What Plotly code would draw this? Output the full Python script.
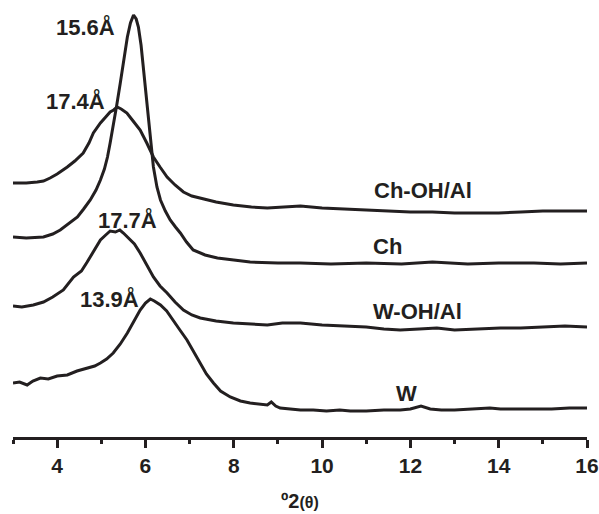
import plotly.graph_objects as go

# ---- data (2θ in degrees, intensity in arbitrary offset units) ----
w_x = [3.0, 3.15, 3.32, 3.45, 3.62, 3.8, 4.0, 4.23, 4.45, 4.68, 4.85, 4.98, 5.12, 5.27, 5.43, 5.59, 5.75, 5.88,
       6.0, 6.11, 6.2, 6.34, 6.48, 6.63, 6.78, 6.94, 7.08, 7.24, 7.38, 7.54, 7.7, 7.92, 8.15, 8.37, 8.55, 8.76,
       8.85, 8.95, 9.05, 9.3, 9.51, 9.8, 10.1, 10.4, 10.64, 11.0, 11.4, 11.77, 12.0, 12.24, 12.45, 12.7, 13.0,
       13.4, 13.8, 14.04, 14.4, 14.8, 15.2, 15.6, 16.0]
w_y = [54, 55, 52, 56, 59, 58, 61, 62, 66, 69, 71, 74, 78, 84, 93, 104, 117, 127,
       134, 138, 136, 132, 126, 117, 107, 97, 86, 74, 63, 54, 46, 40, 36, 34, 33, 32,
       35, 31, 29, 28, 27, 27, 26, 27, 26, 26, 27, 27, 28, 31, 28, 27, 27,
       28, 29, 28, 28, 28, 28, 29, 29]

woh_x = [3.0, 3.2, 3.46, 3.69, 3.9, 4.14, 4.37, 4.55, 4.68, 4.85, 4.98, 5.1, 5.2, 5.32, 5.42, 5.5, 5.59, 5.75,
         5.88, 6.03, 6.18, 6.33, 6.49, 6.67, 6.86, 7.05, 7.24, 7.6, 7.99, 8.4, 8.76, 9.1, 9.51, 10.0, 10.5,
         11.0, 11.4, 11.77, 12.2, 12.6, 13.0, 13.5, 14.04, 14.5, 15.0, 15.5, 16.0]
woh_y = [131, 130, 132, 135, 140, 147, 160, 166, 175, 187, 197, 202, 206, 205, 207, 204, 200, 193,
         184, 172, 160, 151, 144, 135, 127, 122, 119, 116, 114, 113, 112, 114, 114, 112, 111,
         110, 108, 107, 108, 109, 107, 108, 109, 109, 110, 111, 110]

ch_x = [3.0, 3.3, 3.69, 3.9, 4.07, 4.25, 4.46, 4.6, 4.75, 4.88, 4.98, 5.07, 5.14, 5.2, 5.27, 5.35, 5.43, 5.51,
        5.59, 5.66, 5.73, 5.79, 5.84, 5.9, 5.95, 6.0, 6.06, 6.12, 6.18, 6.26, 6.34, 6.45, 6.56, 6.68, 6.79,
        6.93, 7.08, 7.35, 7.63, 8.0, 8.37, 9.0, 9.51, 10.2, 11.0, 11.8, 12.5, 13.3, 14.0, 14.8, 15.4, 16.0]
ch_y = [200, 199, 200, 203, 207, 213, 220, 228, 237, 247, 257, 268, 280, 294, 310, 332, 354, 378,
        400, 414, 422, 418, 410, 392, 370, 345, 320, 294, 270, 250, 237, 226, 217, 210, 204,
        195, 187, 182, 179, 177, 175, 174, 174, 173, 174, 173, 175, 173, 174, 174, 173, 174]

choh_x = [3.0, 3.3, 3.55, 3.69, 3.84, 4.0, 4.23, 4.4, 4.59, 4.72, 4.82, 4.98, 5.1, 5.2, 5.28, 5.36, 5.45, 5.58, 5.72,
          5.88, 6.03, 6.18, 6.33, 6.49, 6.67, 6.86, 7.05, 7.24, 7.6, 7.99, 8.4, 8.76, 9.1, 9.51, 10.0, 10.5,
          11.0, 11.5, 12.0, 12.5, 13.0, 13.5, 14.0, 14.5, 15.0, 15.5, 16.0]
choh_y = [254, 254, 255, 256, 259, 263, 270, 276, 284, 294, 304, 314, 320, 325, 327, 330, 328, 324, 316,
          307, 294, 280, 270, 260, 252, 245, 241, 239, 235, 232, 230, 229, 230, 231, 229, 228,
          227, 226, 225, 225, 224, 224, 224, 225, 226, 226, 226]

series_x = [w_x, woh_x, ch_x, choh_x]
series_y = [w_y, woh_y, ch_y, choh_y]

# ---- labels ----
label_text = ["15.6Å", "17.4Å", "17.7Å", "13.9Å", "Ch-OH/Al", "Ch", "W-OH/Al", "W"]
label_x = [4.65, 4.41, 5.59, 5.18, 12.29, 11.48, 12.16, 11.91]
label_y = [410, 336, 217, 138, 247, 191, 126, 44]

tick_vals = [4, 6, 8, 10, 12, 14, 16]
tick_text = ["4", "6", "8", "10", "12", "14", "16"]
x_title = "<b>º2</b><span style='font-size:16px'><b>(θ)</b></span>"

FONT = "Liberation Sans, Arial, sans-serif"
INK = "#231f20"

fig = go.Figure()
for sx, sy in zip(series_x, series_y):
    fig.add_trace(go.Scatter(x=sx, y=sy, mode="lines",
                             line=dict(color=INK, width=3),
                             showlegend=False, hoverinfo="skip"))

for t, x, y in zip(label_text, label_x, label_y):
    fig.add_annotation(x=x, y=y, xref="x", yref="y", text="<b>" + t + "</b>",
                       showarrow=False, font=dict(family=FONT, size=22, color=INK),
                       xanchor="center", yanchor="middle")

# x-axis title placed as a paper annotation below the tick labels
fig.add_annotation(x=0.5, y=-0.149, xref="paper", yref="paper", text=x_title,
                   showarrow=False, font=dict(family=FONT, size=20, color=INK),
                   xanchor="center", yanchor="middle")

fig.update_layout(
    width=599, height=514,
    margin=dict(l=13, r=12, t=5, b=77),
    paper_bgcolor="white", plot_bgcolor="white",
    font=dict(family=FONT, color=INK),
    xaxis=dict(range=[3, 16], showgrid=False, zeroline=False,
               showline=True, linewidth=2.5, linecolor=INK,
               ticks="outside", ticklen=8, tickwidth=2.5, tickcolor=INK,
               tickvals=tick_vals, ticktext=["<b>" + s + "</b>" for s in tick_text],
               tickfont=dict(family=FONT, size=21, color=INK),
               minor=dict(dtick=1, tick0=3, ticks="outside", ticklen=4, tickwidth=2.5, tickcolor=INK),
               automargin=False),
    yaxis=dict(range=[0, 432], visible=False, showgrid=False, zeroline=False),
)

fig.write_html("out.html", config={"displayModeBar": False},
               post_script="document.body.style.margin='0';document.body.style.overflow='hidden';")
